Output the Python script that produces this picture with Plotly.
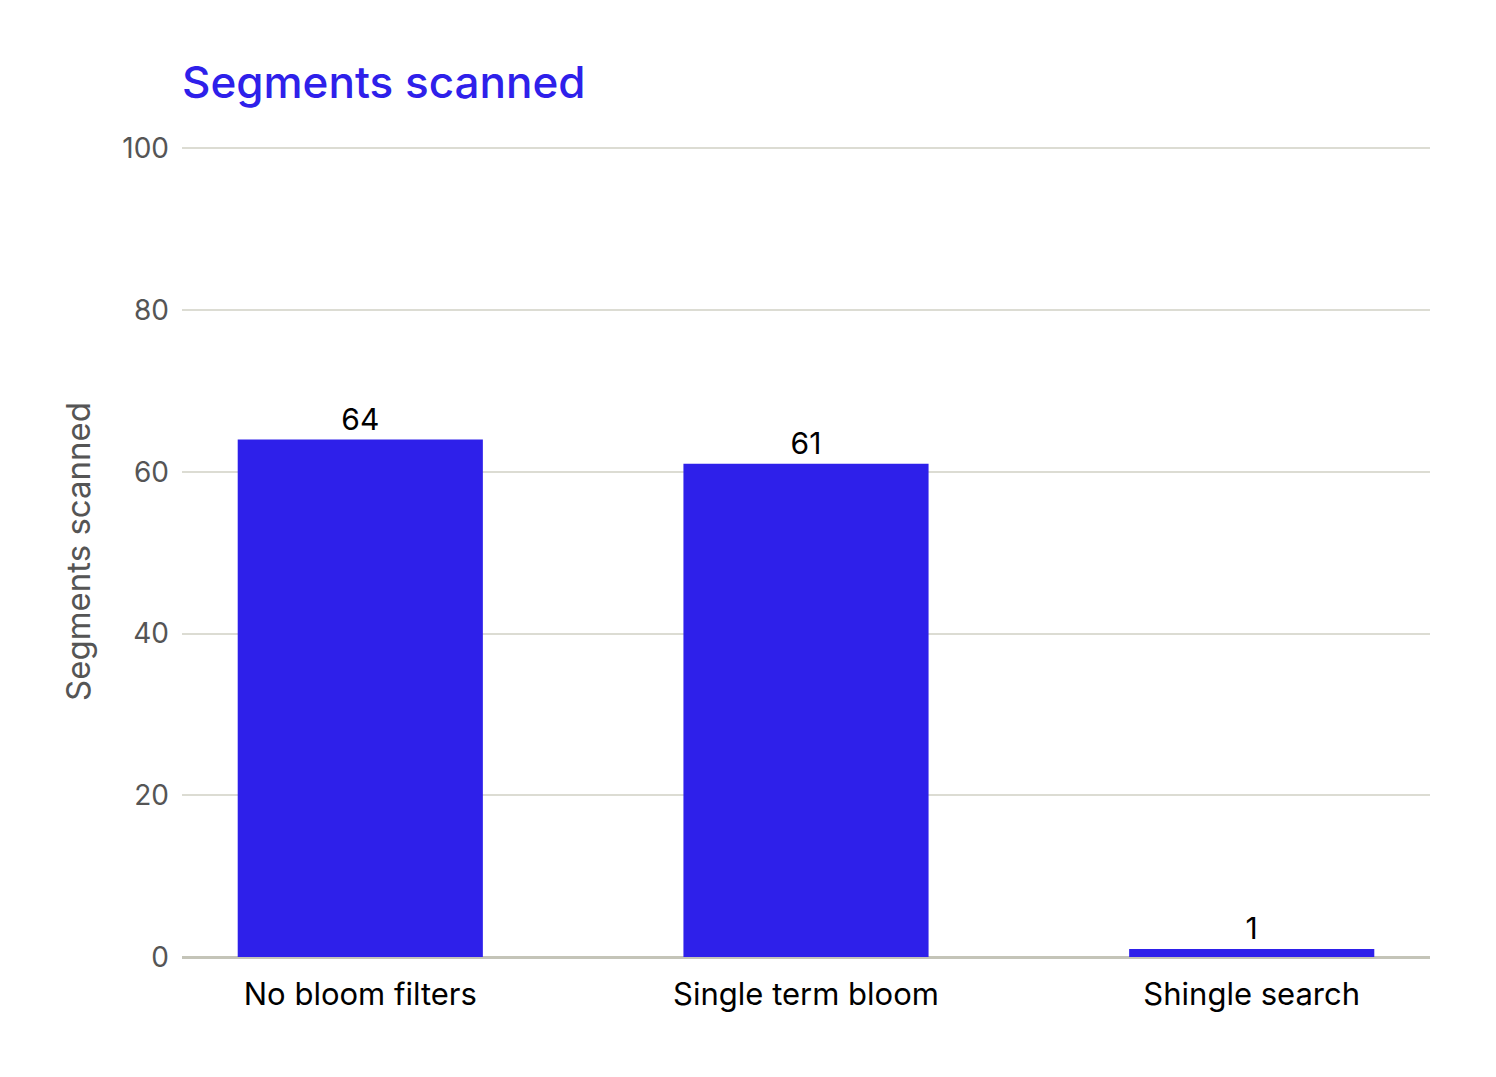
import plotly.graph_objects as go

categories = ['No bloom filters', 'Single term bloom', 'Shingle search']
segments = [64, 61, 1]
labels = ['64', '61', '1']

blue = '#2e20ea'

fig = go.Figure()
fig.add_trace(go.Bar(
    x=categories, y=segments, text=labels,
    textposition='outside', cliponaxis=False,
    textfont=dict(size=30, color='#000000'),
    marker=dict(color=blue, line=dict(width=0)),
    width=0.55,
))

# page body adds 8px offset, margins compensate
fig.update_layout(
    width=1496, height=1077,
    font=dict(family='Inter', size=28, color='#555555'),
    title=dict(text='Segments scanned', x=174 / 1496, xanchor='left', y=1 - 75 / 1077, yanchor='middle',
               font=dict(size=44, color=blue, weight=500)),
    margin=dict(l=174, r=74, t=138, b=128),
    plot_bgcolor='white', paper_bgcolor='white',
    showlegend=False,
    xaxis=dict(range=[-0.4, 2.4], tickfont=dict(size=31, color='#000000'), ticks='',
               showline=False, showgrid=False, ticklabelstandoff=16),
    yaxis=dict(range=[0, 100.3], tickvals=[0, 20, 40, 60, 80, 100], gridcolor='#dcdcd3', gridwidth=2,
               zeroline=True, zerolinecolor='#c4c4b8', zerolinewidth=3,
               title=dict(text='Segments scanned', font=dict(size=33, color='#555555'), standoff=21),
               tickfont=dict(size=28, color='#555555'), ticklabelstandoff=12),
)

fig.write_html("out.html")
